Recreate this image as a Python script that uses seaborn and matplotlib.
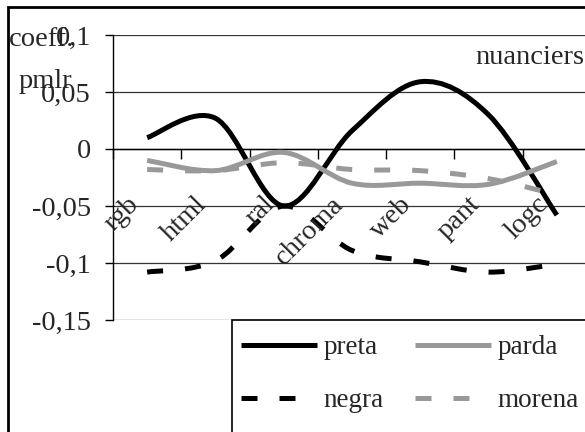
import numpy as np
import matplotlib
matplotlib.use('Agg')
import matplotlib.pyplot as plt
from matplotlib.path import Path
from matplotlib.patches import PathPatch, Rectangle
from matplotlib.lines import Line2D
import seaborn as sns

sns.set_style('white')
plt.rcParams['font.family'] = ['Liberation Serif', 'DejaVu Serif']

# ── データ ──────────────────────────────────────────
categories = ['rgb', 'html', 'ral', 'chroma', 'web', 'pant', 'logc']
preta  = [0.010, 0.027, -0.050, 0.016, 0.059, 0.030, -0.058]
parda  = [-0.010, -0.019, -0.003, -0.030, -0.030, -0.031, -0.011]
negra  = [-0.108, -0.098, -0.050, -0.089, -0.099, -0.108, -0.101]
morena = [-0.018, -0.019, -0.012, -0.018, -0.019, -0.026, -0.040]
yticks = [-0.15, -0.1, -0.05, 0, 0.05, 0.1]
ytick_labels = ['-0,15', '-0,1', '-0,05', '0', '0,05', '0,1']

W, H = 585, 432
FS = 20.5
FS_LEG = 19.5


def smooth_path(ys):
    # Excel 風のなめらか線（ベジェ曲線）
    P = np.column_stack([np.arange(len(ys)), ys]).astype(float)
    n = len(P)
    verts, codes = [P[0]], [Path.MOVETO]
    for i in range(n - 1):
        p0 = P[i - 1] if i > 0 else P[i]
        p3 = P[i + 2] if i + 2 < n else P[i + 1]
        c1 = P[i] + (P[i + 1] - p0) / 6
        c2 = P[i + 1] - (p3 - P[i]) / 6
        verts += [c1, c2, P[i + 1]]
        codes += [Path.CURVE4] * 3
    return Path(verts, codes)


fig = plt.figure(figsize=(W / 100, H / 100), dpi=100)
ax = fig.add_axes([113 / W, 1 - 320 / H, (591 - 113) / W, (320 - 35) / H])

lw = 3.6
dash = (0, (3.2, 4.4))
series = [
    ('preta', preta, '#000000', '-'),
    ('parda', parda, '#999999', '-'),
    ('negra', negra, '#000000', dash),
    ('morena', morena, '#999999', dash),
]
for name, vals, col, ls in series:
    ax.add_patch(PathPatch(smooth_path(vals), facecolor='none', edgecolor=col,
                           lw=lw, linestyle=ls, capstyle='butt', joinstyle='round',
                           zorder=3))

ax.set_xlim(-0.5, len(categories) - 0.5)
ax.set_ylim(-0.15, 0.1)

# y 軸
ax.set_yticks(yticks)
ax.set_yticklabels(ytick_labels, fontsize=FS)
ax.tick_params(axis='y', direction='out', length=6, width=1, color='black', pad=10, left=True)
ax.grid(axis='y', color='#333333', lw=0.9)
ax.grid(axis='x', visible=False)

# x 軸は 0 の位置
for s in ['top', 'right']:
    ax.spines[s].set_visible(False)
ax.spines['left'].set_color('black')
ax.spines['left'].set_linewidth(1)
ax.spines['bottom'].set_position(('data', 0))
ax.spines['bottom'].set_color('black')
ax.spines['bottom'].set_linewidth(1)
ax.set_xticks(np.arange(-0.5, len(categories)), labels=[])
ax.tick_params(axis='x', direction='out', length=7, width=1, color='black', bottom=True)
for i, c in enumerate(categories):
    ax.annotate(c, xy=(i, 0), xycoords='data', xytext=(-9, -37), textcoords='offset points',
                rotation=45, rotation_mode='anchor', ha='right', va='center',
                fontsize=FS, annotation_clip=False)

# テキスト
fig.text(42 / W, 1 - 40 / H, 'coeff.', ha='center', va='center', fontsize=FS)
fig.text(45 / W, 1 - 82 / H, 'pmlr', ha='center', va='center', fontsize=FS)
fig.text(584 / W, 1 - 57 / H, 'nuanciers', ha='right', va='center', fontsize=FS)

# 外枠と凡例枠
fig.patches.append(Rectangle((8 / W, -0.1), 1.2, 1 - 7 / H + 0.1, transform=fig.transFigure,
                             facecolor='none', edgecolor='black', lw=2, zorder=0))
fig.patches.append(Rectangle((232 / W, -0.1), 1.0, 0.1 + 1 - 320 / H, transform=fig.transFigure,
                             facecolor='white', edgecolor='black', lw=1.2, zorder=1))

handles = [Line2D([], [], color=col, lw=lw, linestyle=ls, solid_capstyle='butt',
                  dash_capstyle='butt') for _, _, col, ls in series]
order = [0, 2, 1, 3]
fig.legend([handles[k] for k in order], [series[k][0] for k in order],
           ncol=2, loc='upper left', bbox_to_anchor=(241 / W, 1 - 335 / H),
           frameon=False, fontsize=FS_LEG, handlelength=2.8, handletextpad=0.25,
           columnspacing=1.15, labelspacing=1.05, borderpad=0, borderaxespad=0)

fig.savefig('out.png', dpi=100)
